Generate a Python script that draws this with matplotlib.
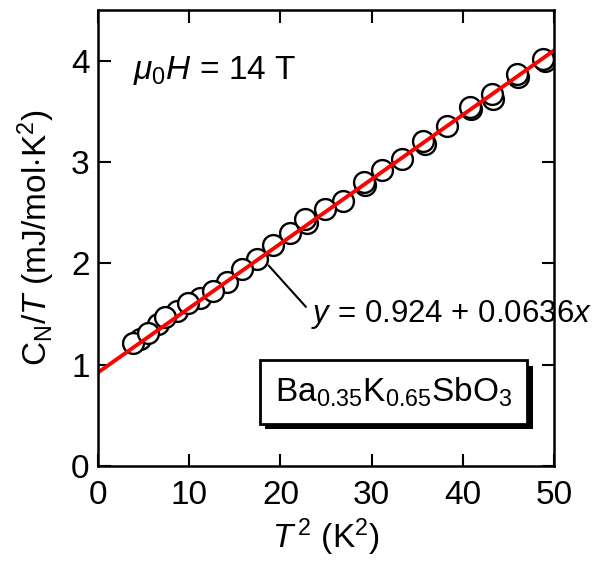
import matplotlib
matplotlib.use("Agg")
import matplotlib.pyplot as plt
import matplotlib.patheffects as pe
import numpy as np

plt.rcParams['font.family'] = ['Liberation Sans', 'DejaVu Sans']
plt.rcParams['mathtext.fontset'] = 'custom'
plt.rcParams['mathtext.rm'] = 'Liberation Sans'
plt.rcParams['mathtext.it'] = 'Liberation Sans:italic'

# measured C/T vs T^2 (two overlapping runs)
t2_a = [3.8, 5.5, 7.3, 9.9, 12.6, 15.8, 19.2, 22.7, 24.9, 29.1, 31.1, 35.6,
        38.3, 40.8, 43.2, 45.9, 48.8]
ct_a = [1.21, 1.31, 1.47, 1.61, 1.73, 1.95, 2.18, 2.44, 2.54, 2.80, 2.92, 3.21,
        3.36, 3.54, 3.67, 3.87, 4.02]
t2_b = [4.6, 6.6, 8.7, 11.2, 14.1, 17.4, 21.0, 22.9, 26.9, 29.3, 33.3, 35.8,
        40.9, 43.3, 46.0, 49.0]
ct_b = [1.25, 1.40, 1.53, 1.66, 1.82, 2.04, 2.30, 2.40, 2.62, 2.77, 3.03, 3.18,
        3.52, 3.62, 3.84, 4.00]

# linear fit
gamma = 0.924
beta = 0.0636
fit_x = np.array([0, 50])

fs = 24

fig = plt.figure(figsize=(6.05, 5.67), dpi=100)
ax = fig.add_axes([0.162, 0.178, 0.754, 0.804])

ax.plot(t2_b, ct_b, 'o', ms=15, mfc='white', mec='black', mew=1.7)
ax.plot(t2_a, ct_a, 'o', ms=15, mfc='white', mec='black', mew=1.7)
ax.plot(fit_x, gamma + beta * fit_x, color='red', lw=2.8)

ax.set_xlim(0, 50)
ax.set_ylim(0, 4.5)
ax.set_xticks([0, 10, 20, 30, 40, 50])
ax.set_yticks([0, 1, 2, 3, 4])
ax.tick_params(direction='in', length=9, width=1.5, top=True, right=True,
               labelsize=fs)
ax.tick_params(axis='x', pad=10)
ax.tick_params(axis='y', pad=6)
for s in ax.spines.values():
    s.set_linewidth(1.8)

ax.set_xlabel(r'$T^{\,2}$ (K$^2$)', fontsize=fs, labelpad=4)
ax.set_ylabel(r'C$_{\rm N}$/$T$ (mJ/mol$\cdot$K$^2$)', fontsize=fs, labelpad=10)

ax.text(3.8, 3.9, r'$\mu_0H$ = 14 T', fontsize=fs, va='center', ha='left')

ax.annotate(r'$y$ = 0.924 + 0.0636$x$', xy=(18.7, 1.98), xytext=(23.4, 1.50),
            fontsize=22.5, va='center', ha='left',
            arrowprops=dict(arrowstyle='-', color='black', lw=1.5,
                            shrinkA=0, shrinkB=0, relpos=(-0.02, 0.72)))

# compound label in a box with a drop shadow
box = ax.text(32.4, 0.73, r'Ba$_{0.35}$K$_{0.65}$SbO$_3$', fontsize=fs,
              ha='center', va='center',
              bbox=dict(boxstyle='square,pad=0.45', fc='white', ec='black', lw=2))
box.get_bbox_patch().set_path_effects([
    pe.SimplePatchShadow(offset=(4, -4), shadow_rgbFace='black', alpha=1),
    pe.Normal()])

fig.savefig('out.png', dpi=100)
